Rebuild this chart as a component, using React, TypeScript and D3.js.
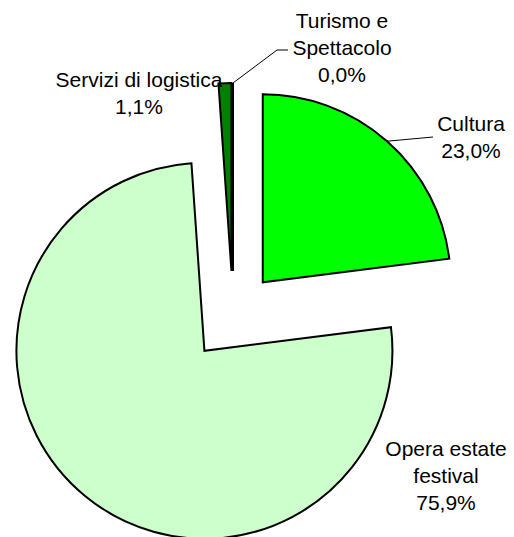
import React from 'react';
import * as d3 from 'd3';

// data (percent of total)
const categories = ['Cultura', 'Opera estate festival', 'Servizi di logistica', 'Turismo e Spettacolo'];
const values = [23.0, 75.9, 1.1, 0.0];
const labelLines = [['Cultura'], ['Opera estate', 'festival'], ['Servizi di logistica'], ['Turismo e', 'Spettacolo']];
const colors = ['#00ff00', '#ccffcc', '#008000', '#ffffff'];

const width = 514;
const height = 537;
const cx = 233;
const cy = 316;
const radius = 188;
const explode = 45;
const fontSize = 21;
const lineHeight = 27;

// label placement (first baseline, text centre) and leader line ends
const labelLayout = [
  { x: 471, y: 131, leader: [[433, 137]] },
  { x: 446, y: 456, leader: [] },
  { x: 139, y: 87, leader: [] },
  { x: 342, y: 28, leader: [[277, 50], [288, 50]] },
];

const locale = d3.formatLocale({ decimal: ',', thousands: '.', grouping: [3], currency: ['', '€'] });
const fmt = locale.format('.1f');

export default function App() {
  const pie = d3.pie<number>().sort(null).startAngle(0).endAngle(2 * Math.PI);
  const arcs = pie(values);
  const arc = d3.arc<d3.PieArcDatum<number>>().innerRadius(0).outerRadius(radius);
  const total = d3.sum(values);

  return (
    <svg
      width={width}
      height={height}
      style={{ position: 'absolute', left: 0, top: 0, background: '#fff' }}
      fontFamily="'Liberation Sans', Arial, sans-serif"
      fontSize={fontSize}
    >
      {arcs.map((a, i) => {
        const mid = (a.startAngle + a.endAngle) / 2;
        const ox = cx + Math.sin(mid) * explode;
        const oy = cy - Math.cos(mid) * explode;
        return (
          <path
            key={categories[i]}
            d={arc(a) || ''}
            transform={`translate(${ox},${oy})`}
            fill={colors[i]}
            stroke="#000"
            strokeWidth={2}
            strokeLinejoin="miter"
          />
        );
      })}
      {arcs.map((a, i) => {
        const lay = labelLayout[i];
        if (!lay.leader.length) return null;
        const mid = (a.startAngle + a.endAngle) / 2;
        const sx = cx + Math.sin(mid) * (explode + radius);
        const sy = cy - Math.cos(mid) * (explode + radius);
        const pts = [[sx, sy], ...lay.leader] as [number, number][];
        return (
          <path
            key={'leader' + i}
            d={d3.line()(pts) || ''}
            fill="none"
            stroke="#000"
            strokeWidth={1}
          />
        );
      })}
      {arcs.map((a, i) => {
        const lay = labelLayout[i];
        const lines = [...labelLines[i], fmt((values[i] / total) * 100) + '%'];
        return (
          <text key={'label' + i} x={lay.x} y={lay.y} textAnchor="middle" fill="#000">
            {lines.map((l, j) => (
              <tspan key={j} x={lay.x} y={lay.y + j * lineHeight}>
                {l}
              </tspan>
            ))}
          </text>
        );
      })}
    </svg>
  );
}
